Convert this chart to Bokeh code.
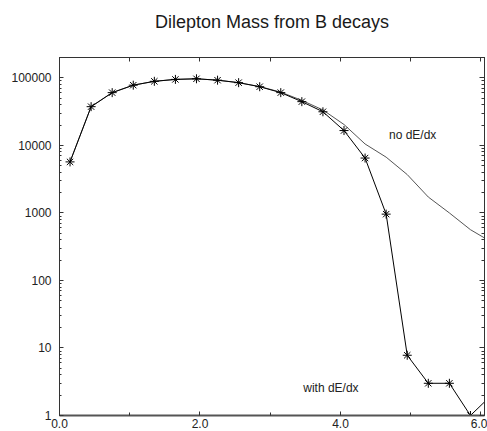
from bokeh.plotting import figure
from bokeh.models import LinearAxis, LogAxis, FixedTicker, Range1d, Label, CustomJSTickFormatter
from bokeh.embed import file_html
from bokeh.resources import INLINE

# ---- data ----
mass_bins = [0.15, 0.45, 0.75, 1.05, 1.35, 1.65, 1.95, 2.25, 2.55, 2.85,
             3.15, 3.45, 3.75, 4.05, 4.35, 4.65, 4.95, 5.25, 5.55, 5.85, 6.15]
with_dedx = [5700, 37500, 60500, 78000, 89000, 95000, 97000, 92500, 85000, 74000,
             60500, 44500, 31500, 16600, 6500, 960, 7.8, 3.0, 3.0, 1.0, 2.0]

nodedx_x = [0.15, 0.45, 0.75, 1.05, 1.35, 1.65, 1.95, 2.25, 2.55, 2.85,
            3.15, 3.45, 3.75, 4.05, 4.35, 4.65, 4.95, 5.25, 5.55, 5.85, 6.15]
no_dedx = [5700, 37500, 60500, 78000, 89000, 95000, 97000, 92500, 85000, 74500,
           61500, 46500, 33500, 20400, 10500, 6700, 3700, 1720, 1000, 565, 370]

x_major = [0, 2, 4, 6]
x_minor = [1, 3, 5]
x_labels = ["0.0", "2.0", "4.0", "6.0"]
top_ticks = [0, 1, 2, 3, 4, 5, 6]

y_major = [1, 10, 100, 1000, 10000, 100000]
y_labels = ["1", "10", "100", "1000", "10000", "100000"]
y_minor = [m * d for d in [1, 10, 100, 1000, 10000, 100000] for m in range(2, 10)]

title_text = "Dilepton Mass from B decays"
label_no = "no dE/dx"
label_with = "with dE/dx"
label_no_pos = (4.69, 14500)
label_with_pos = (3.47, 2.55)

FONT = "Liberation Sans"
AX = "#333333"

p = figure(width=487, height=431, output_backend="svg", toolbar_location=None,
           y_axis_type="log", x_range=Range1d(0, 6.05), y_range=Range1d(1, 200500),
           min_border_left=59, min_border_right=0, min_border_top=0, min_border_bottom=16)

p.title.text = title_text
p.title.text_font = FONT
p.title.text_font_size = "18px"
p.title.text_font_style = "normal"
p.title.text_color = "#1a1a1a"
p.title.align = "center"
p.title.offset = 0
p.title.standoff = 18

p.grid.visible = False
p.outline_line_color = AX
p.background_fill_color = "white"
p.border_fill_color = "white"

blank = CustomJSTickFormatter(code="return ' ';")

# bottom axis
xa = p.xaxis[0]
xa.ticker = FixedTicker(ticks=x_major, minor_ticks=x_minor)
xa.major_label_overrides = {t: l for t, l in zip(x_major, x_labels)}
xa.major_tick_in = 4
xa.major_tick_out = 0
xa.minor_tick_in = 3
xa.minor_tick_out = 0
xa.major_label_standoff = 3
xa.axis_line_color = "#555555"
xa.axis_line_width = 2
xa.major_tick_line_color = AX
xa.minor_tick_line_color = AX
xa.major_label_text_font = FONT
xa.major_label_text_font_size = "12px"
xa.major_label_text_color = "#222222"

# left axis
ya = p.yaxis[0]
ya.ticker = FixedTicker(ticks=y_major, minor_ticks=y_minor)
ya.major_label_overrides = {t: l for t, l in zip(y_major, y_labels)}
ya.major_tick_in = 4
ya.major_tick_out = 0
ya.minor_tick_in = 2
ya.minor_tick_out = 0
ya.major_label_standoff = 8
ya.axis_line_color = AX
ya.major_tick_line_color = AX
ya.minor_tick_line_color = AX
ya.major_label_text_font = FONT
ya.major_label_text_font_size = "12px"
ya.major_label_text_color = "#222222"

# top axis (ticks only)
ta = LinearAxis(ticker=FixedTicker(ticks=top_ticks, minor_ticks=[]), formatter=blank)
ta.major_label_text_font_size = "12px"
ta.major_label_standoff = 0
ta.major_tick_in = 4
ta.major_tick_out = 0
ta.minor_tick_in = 0
ta.minor_tick_out = 0
ta.axis_line_color = AX
ta.major_tick_line_color = AX
p.add_layout(ta, "above")

# right axis (ticks only)
ra = LogAxis(ticker=FixedTicker(ticks=y_major, minor_ticks=y_minor), formatter=blank)
ra.major_label_text_font_size = "1px"
ra.major_label_standoff = 0
ra.major_tick_in = 5
ra.major_tick_out = 0
ra.minor_tick_in = 3
ra.minor_tick_out = 0
ra.axis_line_color = AX
ra.major_tick_line_color = AX
ra.minor_tick_line_color = AX
p.add_layout(ra, "right")

# curves
p.line(nodedx_x, no_dedx, line_color="#555555", line_width=1)
p.line(mass_bins, with_dedx, line_color="black", line_width=1)
p.scatter(mass_bins, with_dedx, marker="asterisk", size=9, line_color="black", line_width=1)

p.add_layout(Label(x=label_no_pos[0], y=label_no_pos[1], text=label_no,
                   text_font=FONT, text_font_size="12px", text_color="#222222",
                   text_baseline="middle"))
p.add_layout(Label(x=label_with_pos[0], y=label_with_pos[1], text=label_with,
                   text_font=FONT, text_font_size="12px", text_color="#222222",
                   text_baseline="middle"))

open("out.html", "w").write(file_html(p, INLINE))
